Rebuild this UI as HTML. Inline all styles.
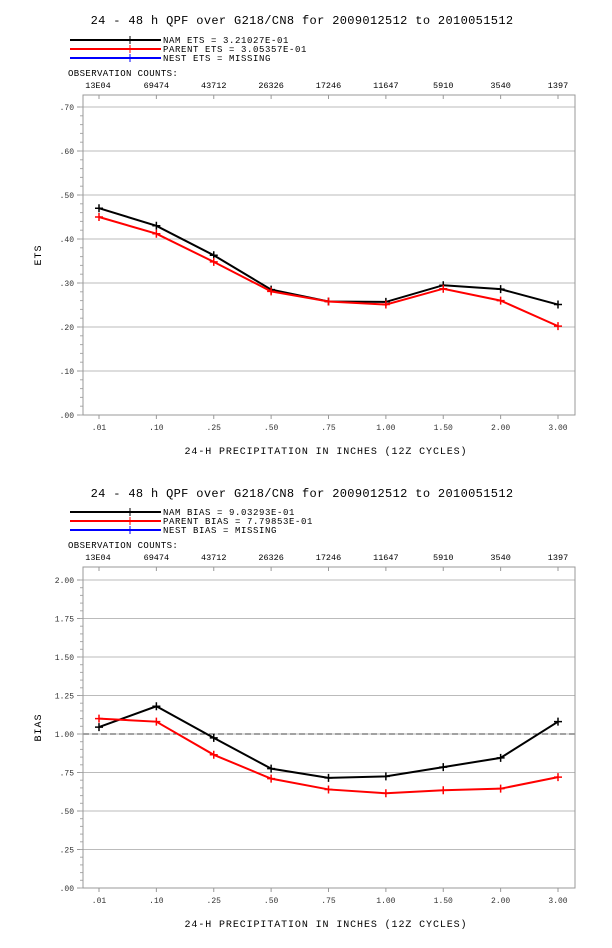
<!DOCTYPE html>
<html><head><meta charset="utf-8"><style>
html,body{margin:0;padding:0;background:#fff;}
svg{display:block;font-family:"Liberation Mono",monospace;}
</style></head><body>
<svg id="svg" width="612" height="948" viewBox="0 0 612 948" xmlns="http://www.w3.org/2000/svg"></svg>
<script>
const categories=[".01",".10",".25",".50",".75","1.00","1.50","2.00","3.00"];
const obsCounts=["13E04","69474","43712","26326","17246","11647","5910","3540","1397"];
const etsNam=[0.470,0.430,0.363,0.285,0.258,0.257,0.295,0.286,0.251];
const etsParent=[0.450,0.412,0.348,0.281,0.258,0.251,0.287,0.260,0.202];
const etsTicks=[".00",".10",".20",".30",".40",".50",".60",".70"];
const etsTickVals=[0,0.1,0.2,0.3,0.4,0.5,0.6,0.7];
const biasNam=[1.045,1.180,0.975,0.775,0.715,0.725,0.785,0.845,1.080];
const biasParent=[1.100,1.080,0.865,0.710,0.640,0.615,0.635,0.645,0.720];
const biasTicks=[".00",".25",".50",".75","1.00","1.25","1.50","1.75","2.00"];
const biasTickVals=[0,0.25,0.5,0.75,1,1.25,1.5,1.75,2];

const svg=document.getElementById('svg');
const NS="http://www.w3.org/2000/svg";
function el(tag,attrs,parent){const e=document.createElementNS(NS,tag);for(const k in attrs)e.setAttribute(k,attrs[k]);(parent||svg).appendChild(e);return e;}
function txt(x,y,s,size,anchor,parent,extra){const t=el('text',Object.assign({x:x,y:y,'font-size':size,'text-anchor':anchor||'start',fill:'#000'},extra||{}),parent);t.textContent=s;return t;}

const L=83,R=575,X0=99,X1=558;
function xs(i){return X0+(X1-X0)*i/(categories.length-1);}

function chart(cfg){
  const g=el('g',{});
  
  
  const top=cfg.top,bottom=cfg.bottom;
  const ys=v=>cfg.y0px+(cfg.y1px-cfg.y0px)*(v-cfg.vmin)/(cfg.vmax-cfg.vmin);
  const t=txt(302,cfg.titleY,cfg.title,12,'middle',g,{'letter-spacing':'0.35'});
  
  const leg=[["#000",cfg.l1],["#f00",cfg.l2],["#00f",cfg.l3]];
  leg.forEach((d,i)=>{
    const y=cfg.legY+i*9;
    const lg=el('g',{},g);
    
    el('line',{x1:70,y1:y,x2:161,y2:y,stroke:d[0],'stroke-width':2},lg);
    el('line',{x1:130,y1:y-4,x2:130,y2:y+4,stroke:d[0],'stroke-width':1},lg);
    txt(163,y+3,d[1],9,'start',lg,{'xml:space':'preserve','letter-spacing':'0.6'});
  });
  const ol=txt(68,cfg.legY+36,"OBSERVATION COUNTS:",9,'start',g,{'letter-spacing':'0.4'});
  
  obsCounts.forEach((c,i)=>{const o=txt(i==0?98:xs(i),cfg.legY+48,c,8.5,'middle',g);});
  cfg.tickVals.forEach((v,i)=>{
    const y=ys(v);
    if(v>cfg.vmin) el('line',{x1:L,y1:y,x2:R,y2:y,stroke:'#bbb','stroke-width':1},g);
    el('line',{x1:L-6,y1:y,x2:L,y2:y,stroke:'#999'},g);
    const tl=txt(L-9,y+3,cfg.ticks[i],8,'end',g,{fill:'#333'});
  });
  const step=(cfg.tickVals[1]-cfg.tickVals[0])/5;
  for(let v=cfg.vmin;v<=cfg.vmax+1e-9;v+=step){const y=ys(v);if(y>=top)el('line',{x1:L-3,y1:y,x2:L,y2:y,stroke:'#aaa'},g);}
  if(cfg.ref!==undefined) el('line',{x1:L,y1:ys(cfg.ref),x2:R,y2:ys(cfg.ref),stroke:'#444','stroke-dasharray':'6,3'},g);
  el('rect',{x:L,y:top,width:R-L,height:bottom-top,fill:'none',stroke:'#999'},g);
  categories.forEach((c,i)=>{
    const x=xs(i);
    el('line',{x1:x,y1:bottom,x2:x,y2:bottom+4,stroke:'#999'},g);
    el('line',{x1:x,y1:top,x2:x,y2:top+4,stroke:'#999'},g);
    const xl=txt(x,bottom+15,c,8,'middle',g,{fill:'#333'});
  });
  const xt=txt(326,bottom+39,"24-H PRECIPITATION IN INCHES (12Z CYCLES)",10,'middle',g,{'letter-spacing':'0.9'});
  
  const yt=txt(0,0,cfg.ylab,10,'middle',g,{transform:`translate(41,${(top+bottom)/2}) rotate(-90)`,'letter-spacing':'1'});
  
  [[cfg.s1,'#000','series-nam'],[cfg.s2,'#f00','series-parent']].forEach(s=>{
    const pts=s[0].map((v,i)=>xs(i)+','+ys(v)).join(' ');
    const pl=el('polyline',{points:pts,fill:'none',stroke:s[1],'stroke-width':2},g);
    
    s[0].forEach((v,i)=>{const x=xs(i),y=ys(v);
      const p=el('path',{d:`M${x-4},${y}H${x+4}M${x},${y-4}V${y+4}`,stroke:s[1],'stroke-width':1.5},g);
      });
  });
}
chart({name:'ets-chart',title:"24 - 48 h QPF over G218/CN8 for 2009012512 to 2010051512",titleY:24,legY:40,
  l1:"NAM ETS =  3.21027E-01",l2:"PARENT ETS =  3.05357E-01",l3:"NEST ETS = MISSING",
  top:95,bottom:415,y0px:415,y1px:107,vmin:0,vmax:0.7,ticks:etsTicks,tickVals:etsTickVals,ylab:"ETS",s1:etsNam,s2:etsParent});
chart({name:'bias-chart',title:"24 - 48 h QPF over G218/CN8 for 2009012512 to 2010051512",titleY:497,legY:512,
  l1:"NAM BIAS =  9.03293E-01",l2:"PARENT BIAS =  7.79853E-01",l3:"NEST BIAS = MISSING",
  top:567,bottom:888,y0px:888,y1px:580,vmin:0,vmax:2,ticks:biasTicks,tickVals:biasTickVals,ylab:"BIAS",ref:1,s1:biasNam,s2:biasParent});
</script>
</body></html>
